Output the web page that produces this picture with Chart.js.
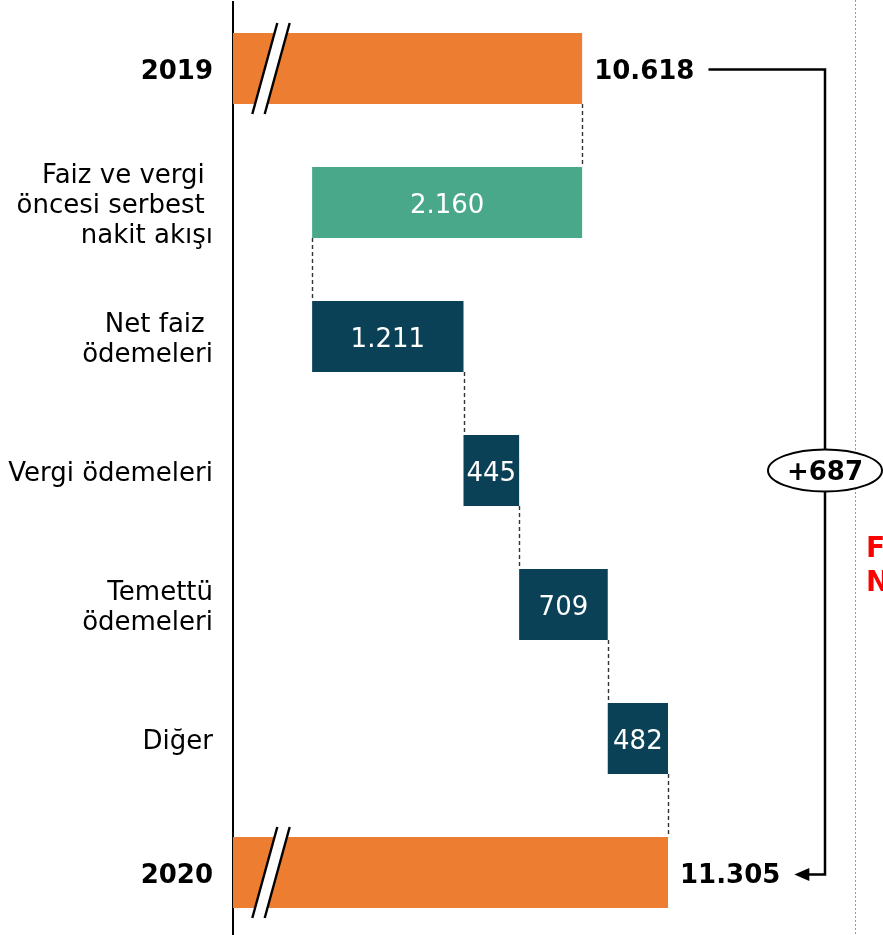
<!DOCTYPE html>
<html>
<head>
<meta charset="utf-8">
<script src="https://cdn.jsdelivr.net/npm/chart.js@4.4.1/dist/chart.umd.min.js"></script>
<style>
  html, body { margin: 0; padding: 0; background: #fff; overflow: hidden; }
  #wrap { width: 883px; height: 935px; overflow: hidden; position: relative; }
  canvas { display: block; }
</style>
</head>
<body>
<div id="wrap"><canvas id="chart" width="883" height="941"></canvas></div>
<script>
// ── Data ──────────────────────────────────────────────────────────────
const categories = [
  '2019',
  ['Faiz ve vergi ', 'öncesi serbest ', 'nakit akışı'],
  ['Net faiz ', 'ödemeleri'],
  'Vergi ödemeleri',
  ['Temettü', 'ödemeleri'],
  'Diğer',
  '2020'
];
const startValue = 10618;
const stepValues = [-2160, 1211, 445, 709, 482];
const endValue = 11305;
const valueLabels = ['10.618', '2.160', '1.211', '445', '709', '482', '11.305'];
const changeLabel = '+687';
const sideNote = ['F', 'N'];

// axis is broken, so it does not start at zero
const axisMin = 7825;
const axisMax = 13025;

const ORANGE = '#ED7D31';
const GREEN = '#49A88A';
const DARK = '#0B4156';
const FONT = '"DejaVu Sans", Verdana, sans-serif';

// ── Build floating bars from the running total ────────────────────────
const bars = [[axisMin, startValue]];
const joins = [startValue];   // value where each bar hands over to the next
let running = startValue;
stepValues.forEach(v => {
  const next = running + v;
  bars.push([Math.min(running, next), Math.max(running, next)]);
  running = next;
  joins.push(running);
});
bars.push([axisMin, endValue]);

const barColors = [ORANGE, GREEN, DARK, DARK, DARK, DARK, ORANGE];
const isTotal = i => i === 0 || i === categories.length - 1;

// ── Overlay: connectors, breaks, labels, bracket ──────────────────────
const overlay = {
  id: 'overlay',
  afterDatasetsDraw(chart) {
    const { ctx, scales: { x, y } } = chart;
    const meta = chart.getDatasetMeta(0);
    const half = i => meta.data[i].height / 2;

    ctx.save();

    // dashed connectors between bars
    ctx.strokeStyle = '#333';
    ctx.lineWidth = 1.4;
    ctx.setLineDash([4, 3]);
    for (let i = 0; i < bars.length - 1; i++) {
      const px = Math.round(x.getPixelForValue(joins[i])) + 0.5;
      ctx.beginPath();
      ctx.moveTo(px, y.getPixelForValue(i) + half(i));
      ctx.lineTo(px, y.getPixelForValue(i + 1) - half(i + 1));
      ctx.stroke();
    }
    ctx.setLineDash([]);

    // axis break marks on the total bars
    [0, bars.length - 1].forEach(i => {
      const cy = y.getPixelForValue(i);
      const top = cy - half(i) - 10, bot = cy + half(i) + 10;
      const cx = chart.chartArea.left + 38;
      const slant = 12.5, gap = 6.2;
      ctx.fillStyle = '#fff';
      ctx.beginPath();
      ctx.moveTo(cx + slant - gap, top);
      ctx.lineTo(cx + slant + gap, top);
      ctx.lineTo(cx - slant + gap, bot);
      ctx.lineTo(cx - slant - gap, bot);
      ctx.closePath();
      ctx.fill();
      ctx.strokeStyle = '#000';
      ctx.lineWidth = 2.4;
      [-gap, gap].forEach(g => {
        ctx.beginPath();
        ctx.moveTo(cx + slant + g, top);
        ctx.lineTo(cx - slant + g, bot);
        ctx.stroke();
      });
    });

    // value labels
    ctx.textBaseline = 'middle';
    const labelEnds = {};
    bars.forEach((b, i) => {
      const cy = y.getPixelForValue(i) + 4;
      if (isTotal(i)) {
        ctx.font = `bold 26px ${FONT}`;
        ctx.fillStyle = '#000';
        ctx.textAlign = 'left';
        const lx = x.getPixelForValue(b[1]) + 12;
        ctx.fillText(valueLabels[i], lx, cy);
        labelEnds[i] = lx + ctx.measureText(valueLabels[i]).width;
      } else {
        ctx.font = `26px ${FONT}`;
        ctx.fillStyle = '#fff';
        ctx.textAlign = 'center';
        const mid = (x.getPixelForValue(b[0]) + x.getPixelForValue(b[1])) / 2;
        ctx.fillText(valueLabels[i], mid, cy);
      }
    });

    // dotted divider (behind the bubble)
    ctx.strokeStyle = '#9a9a9a';
    ctx.lineWidth = 1;
    ctx.setLineDash([2, 2]);
    ctx.beginPath();
    ctx.moveTo(855.5, 0);
    ctx.lineTo(855.5, chart.height);
    ctx.stroke();
    ctx.setLineDash([]);

    // bracket from 2019 to 2020 with arrow
    const last = bars.length - 1;
    const bx = 825;
    const y0 = Math.round(y.getPixelForValue(0)) + 0.5;
    const y1 = Math.round(y.getPixelForValue(last)) + 1.5;
    const tip = labelEnds[last] + 14;
    ctx.strokeStyle = '#000';
    ctx.lineWidth = 2.5;
    ctx.beginPath();
    ctx.moveTo(labelEnds[0] + 14, y0);
    ctx.lineTo(bx, y0);
    ctx.lineTo(bx, y1);
    ctx.lineTo(tip + 14, y1);
    ctx.stroke();
    ctx.fillStyle = '#000';
    ctx.beginPath();
    ctx.moveTo(tip, y1);
    ctx.lineTo(tip + 15, y1 - 6.5);
    ctx.lineTo(tip + 15, y1 + 6.5);
    ctx.closePath();
    ctx.fill();

    // change bubble
    const ey = y.getPixelForValue(3);
    ctx.fillStyle = '#fff';
    ctx.beginPath();
    ctx.ellipse(bx, ey, 57, 21, 0, 0, Math.PI * 2);
    ctx.fill();
    ctx.lineWidth = 2;
    ctx.stroke();
    ctx.fillStyle = '#000';
    ctx.font = `bold 26px ${FONT}`;
    ctx.textAlign = 'center';
    ctx.fillText(changeLabel, bx, ey + 3);

    // cut-off red note on the right
    ctx.fillStyle = '#FF0000';
    ctx.font = `bold 28px ${FONT}`;
    ctx.textAlign = 'left';
    ctx.textBaseline = 'alphabetic';
    sideNote.forEach((t, k) => ctx.fillText(t, 866, 557 + k * 34));

    ctx.restore();
  }
};

// ── Chart ─────────────────────────────────────────────────────────────
new Chart(document.getElementById('chart'), {
  type: 'bar',
  data: {
    labels: categories,
    datasets: [{
      data: bars,
      backgroundColor: barColors,
      borderWidth: 0,
      barPercentage: 0.53,
      categoryPercentage: 1
    }]
  },
  options: {
    indexAxis: 'y',
    responsive: false,
    animation: false,
    events: [],
    layout: { padding: { top: 1.5, bottom: 1.5, left: 0, right: 0 } },
    plugins: { legend: { display: false }, tooltip: { enabled: false } },
    scales: {
      x: {
        display: false,
        min: axisMin,
        max: axisMax
      },
      y: {
        afterFit(scale) {
          scale.width = 233;
          scale.paddingTop = 0;
          scale.paddingBottom = 0;
        },
        grid: { display: false, drawTicks: false },
        border: { display: true, color: '#000', width: 2 },
        ticks: {
          padding: 20,
          labelOffset: 4,
          color: '#000',
          font: c => ({
            family: FONT,
            size: 26,
            lineHeight: 1.15,
            weight: isTotal(c.index) ? 'bold' : 'normal'
          })
        }
      }
    }
  },
  plugins: [overlay]
});
</script>
</body>
</html>
